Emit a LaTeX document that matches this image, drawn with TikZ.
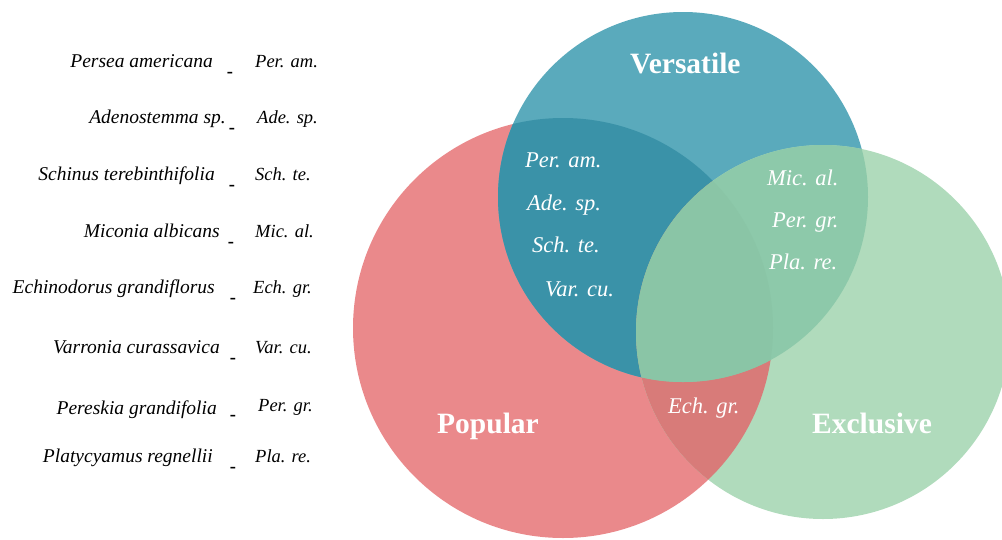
\documentclass[tikz,border=0pt]{standalone}
\usepackage{fontspec}
\setmainfont{Liberation Serif}
\usepackage{tikz}
\definecolor{popred}{RGB}{234,137,139}
\definecolor{verblue}{RGB}{90,170,188}
\definecolor{excgreen}{RGB}{176,219,188}
\definecolor{popver}{RGB}{58,146,168}
\definecolor{verexc}{RGB}{141,201,170}
\definecolor{popexc}{RGB}{216,123,121}
\definecolor{allthree}{RGB}{138,197,166}
\tikzset{
  spname/.style={font=\fontsize{19.5}{22}\selectfont\itshape, anchor=base east, inner sep=0pt},
  spdash/.style={font=\fontsize{18.5}{22}\selectfont\bfseries, anchor=base, inner sep=0pt},
  spabbr/.style={font=\fontsize{18.5}{22}\selectfont\itshape, anchor=base west, inner sep=0pt},
  inlabel/.style={font=\fontsize{22.5}{26}\selectfont\itshape, text=white, anchor=base west, inner sep=0pt},
  setname/.style={font=\fontsize{29.5}{34}\selectfont\bfseries, text=white, anchor=base west, inner sep=0pt}
}

\begin{document}
\begin{tikzpicture}[x=1pt, y=-1pt]
    \useasboundingbox (0,0) rectangle (1002,539);
    \coordinate (cPop) at (563,328);
    \coordinate (cVer) at (683,197);
    \coordinate (cExc) at (823,332);

    % the three sets
    \fill[popred] (cPop) circle[radius=210pt];
    \fill[verblue] (cVer) circle[radius=185pt];
    \fill[excgreen] (cExc) circle[radius=187pt];
    \begin{scope}
        \clip (cPop) circle[radius=210pt];
        \fill[popver] (cVer) circle[radius=185pt];
        \fill[popexc] (cExc) circle[radius=187pt];
    \end{scope}
    \begin{scope}
        \clip (cVer) circle[radius=185pt];
        \fill[verexc] (cExc) circle[radius=187pt];
        \clip (cPop) circle[radius=210pt];
        \fill[allthree] (cExc) circle[radius=187pt];
    \end{scope}

    % set names
    \node[setname] (lVer) at (630,73) {Versatile};
    \node[setname] (lPop) at (437,433) {Popular};
    \node[setname] (lExc) at (812,433) {Exclusive};

    % species inside the sets
    \node[inlabel] (vPeram) at (525,167) {Per. am.};
    \node[inlabel] (vAdesp) at (527,210) {Ade. sp.};
    \node[inlabel] (vSchte) at (532,252) {Sch. te.};
    \node[inlabel] (vVarcu) at (545,296) {Var. cu.};
    \node[inlabel] (vMical) at (767,185) {Mic. al.};
    \node[inlabel] (vPergr) at (772,227) {Per. gr.};
    \node[inlabel] (vPlare) at (769,269) {Pla. re.};
    \node[inlabel] (vEchgr) at (668,413) {Ech. gr.};

    % legend
    \node[spname] (nPeram) at (213,67) {Persea americana};
    \node[spdash] (dPeram) at (230,77) {-};
    \node[spabbr] (aPeram) at (255,67) {Per. am.};

    \node[spname] (nAdesp) at (226,123) {Adenostemma sp.};
    \node[spdash] (dAdesp) at (232,133) {-};
    \node[spabbr] (aAdesp) at (257,123) {Ade. sp.};

    \node[spname] (nSchte) at (215,180) {Schinus terebinthifolia};
    \node[spdash] (dSchte) at (232,190) {-};
    \node[spabbr] (aSchte) at (255,180) {Sch. te.};

    \node[spname] (nMical) at (220,237) {Miconia albicans};
    \node[spdash] (dMical) at (231,247) {-};
    \node[spabbr] (aMical) at (255,237) {Mic. al.};

    \node[spname] (nEchgr) at (215,293) {Echinodorus grandiflorus};
    \node[spdash] (dEchgr) at (233,303) {-};
    \node[spabbr] (aEchgr) at (253,293) {Ech. gr.};

    \node[spname] (nVarcu) at (220,353) {Varronia curassavica};
    \node[spdash] (dVarcu) at (233,363) {-};
    \node[spabbr] (aVarcu) at (255,353) {Var. cu.};

    \node[spname] (nPergr) at (217,414) {Pereskia grandifolia};
    \node[spdash] (dPergr) at (233,420) {-};
    \node[spabbr] (aPergr) at (258,411) {Per. gr.};

    \node[spname] (nPlare) at (213,462) {Platycyamus regnellii};
    \node[spdash] (dPlare) at (233,472) {-};
    \node[spabbr] (aPlare) at (255,462) {Pla. re.};
\end{tikzpicture}
\end{document}
